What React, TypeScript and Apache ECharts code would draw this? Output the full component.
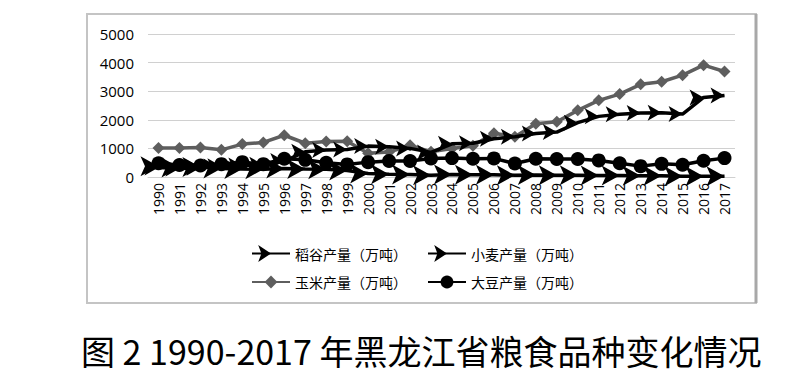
import React, { useEffect, useRef } from "react";
import * as echarts from "echarts";

const years = [
  "1990","1991","1992","1993","1994","1995","1996","1997","1998","1999",
  "2000","2001","2002","2003","2004","2005","2006","2007","2008","2009",
  "2010","2011","2012","2013","2014","2015","2016","2017",
];
const yTicks = [0, 1000, 2000, 3000, 4000, 5000];

const riceName = "稻谷产量（万吨）";
const wheatName = "小麦产量（万吨）";
const cornName = "玉米产量（万吨）";
const soyName = "大豆产量（万吨）";

const rice = [330, 300, 320, 380, 400, 430, 560, 880, 940, 960, 1080, 1060, 1000, 860, 1160, 1180, 1340, 1410, 1520, 1570, 1900, 2120, 2190, 2240, 2250, 2200, 2780, 2850];
const wheat = [380, 330, 350, 300, 280, 270, 300, 280, 270, 230, 120, 100, 90, 60, 90, 80, 80, 60, 70, 60, 60, 50, 50, 40, 40, 30, 30, 30];
const corn = [1010, 1010, 1030, 950, 1150, 1210, 1460, 1180, 1240, 1250, 830, 870, 1110, 880, 1000, 1090, 1530, 1410, 1860, 1930, 2330, 2680, 2900, 3240, 3330, 3560, 3910, 3690];
const soy = [480, 420, 400, 450, 520, 450, 640, 600, 500, 440, 520, 560, 560, 650, 660, 640, 650, 470, 640, 630, 630, 580, 480, 380, 460, 430, 570, 660];

const titleText = "图 2 1990-2017 年黑龙江省粮食品种变化情况";

export default function App() {
  const ref = useRef<HTMLDivElement>(null);
  useEffect(() => {
    document.body.style.margin = "0";
    const chart = echarts.init(ref.current!, null, { renderer: "svg" });
    const legendText = { fontFamily: "Noto Sans CJK SC", fontSize: 14, color: "#000" };
    chart.setOption({
      animation: false,
      backgroundColor: "#fff",
      title: {
        text: titleText,
        left: 76,
        top: 328,
        textStyle: { fontFamily: "Noto Sans CJK SC", fontSize: 34, fontWeight: "normal", color: "#000" },
      },
      graphic: [
        { type: "rect", shape: { x: 87, y: 14, width: 669, height: 289 }, style: { fill: "none", stroke: "#c4c4c4", lineWidth: 2 } },
        { type: "line", shape: { x1: 756, y1: 14, x2: 756, y2: 303 }, style: { stroke: "#a8a8a8", lineWidth: 3 } },
      ],
      legend: [
        {
          data: [riceName, wheatName],
          left: 246, top: 240, itemWidth: 38, itemHeight: 16, itemGap: 20,
          textStyle: legendText,
        },
        {
          data: [cornName, soyName],
          left: 246, top: 270, itemWidth: 38, itemHeight: 16, itemGap: 20,
          textStyle: legendText,
        },
      ],
      grid: { left: 148, right: 61, top: 34, bottom: 208, containLabel: false },
      xAxis: {
        type: "category",
        data: years,
        boundaryGap: true,
        axisLine: { show: true, lineStyle: { color: "#d0d0d0", width: 1 } },
        axisTick: { show: false },
        axisLabel: { rotate: 90, fontFamily: "Open Sans", fontSize: 14, color: "#000", margin: 6, interval: 0 },
      },
      yAxis: {
        type: "value",
        min: yTicks[0],
        max: yTicks[yTicks.length - 1],
        interval: 1000,
        axisLine: { show: false },
        axisTick: { show: false },
        splitLine: { lineStyle: { color: "#d0d0d0", width: 1 } },
        axisLabel: {
          fontFamily: "Open Sans", fontSize: 15, color: "#000", margin: 14,
          formatter: (v: number) => String(v),
        },
      },
      series: [
        {
          name: cornName, type: "line", data: corn, z: 2,
          lineStyle: { color: "#5e5e5e", width: 3.5 },
          itemStyle: { color: "#5e5e5e" },
          symbol: "diamond", symbolSize: 12,
        },
        {
          name: wheatName, type: "line", data: wheat, z: 3,
          lineStyle: { color: "#000", width: 3.5 },
          itemStyle: { color: "#000" },
          symbol: "arrow", symbolSize: [15, 18], symbolRotate: -90,
        },
        {
          name: soyName, type: "line", data: soy, z: 3,
          lineStyle: { color: "#000", width: 3.5 },
          itemStyle: { color: "#000" },
          symbol: "circle", symbolSize: 14,
        },
        {
          name: riceName, type: "line", data: rice, z: 4,
          lineStyle: { color: "#000", width: 3.5 },
          itemStyle: { color: "#000" },
          symbol: "arrow", symbolSize: [12, 14], symbolRotate: -90,
        },
      ],
    });
    return () => chart.dispose();
  }, []);
  return <div ref={ref} style={{ width: 796, height: 385 }} />;
}
